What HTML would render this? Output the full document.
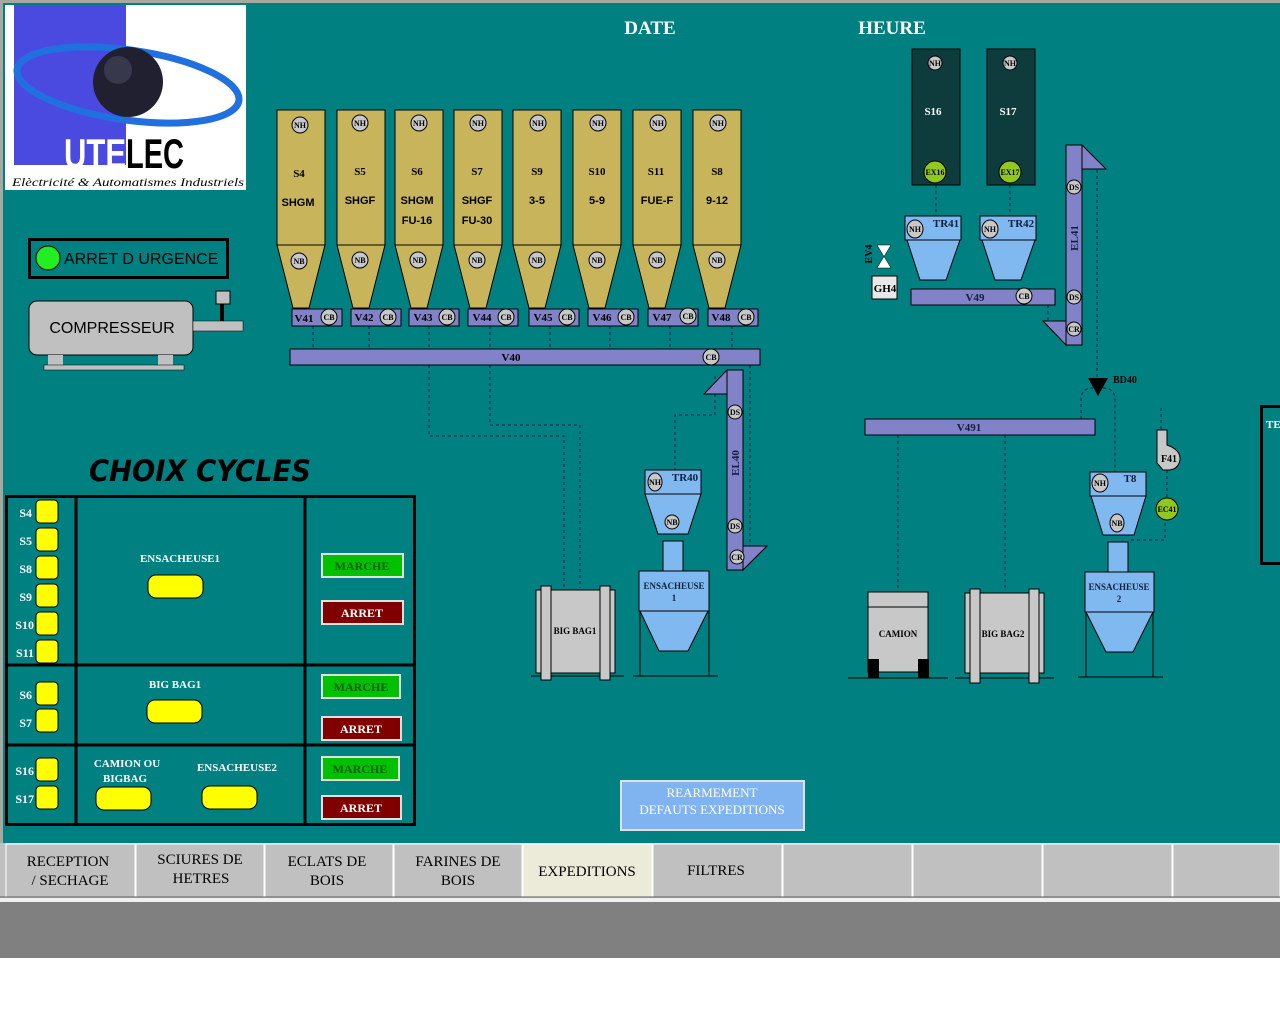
<!DOCTYPE html>
<html><head><meta charset="utf-8"><style>
html,body{margin:0;padding:0;background:#fff;}
svg{display:block;font-family:"Liberation Serif",serif;font-weight:bold;}
</style></head><body>
<svg width="1280" height="1024" viewBox="0 0 1280 1024" xmlns="http://www.w3.org/2000/svg">
<rect x="0" y="0" width="1280" height="958" fill="#a8a8a0"/>
<rect x="3" y="3" width="1277" height="840" fill="#008080"/>
<!-- logo -->
<rect x="5" y="5" width="241" height="185" fill="#fff"/>
<rect x="14" y="5" width="112" height="160" fill="#4a4ae0"/>
<ellipse cx="128" cy="85" rx="112" ry="35" fill="none" stroke="#2070e0" stroke-width="7" transform="rotate(8 128 85)"/>
<circle cx="128" cy="82" r="35" fill="#202030"/>
<circle cx="118" cy="70" r="14" fill="#505068" opacity="0.5"/>
<text x="64" y="168" font-family="Liberation Sans, sans-serif" font-size="42" fill="#fff" textLength="62" lengthAdjust="spacingAndGlyphs">UTE</text>
<text x="126" y="168" font-family="Liberation Sans, sans-serif" font-size="42" fill="#000" textLength="58" lengthAdjust="spacingAndGlyphs">LEC</text>
<text x="12" y="186" font-size="12" font-style="italic" font-weight="normal" fill="#000" textLength="232" lengthAdjust="spacingAndGlyphs">Elèctricité &amp; Automatismes Industriels</text>
<!-- DATE HEURE -->
<text x="650" y="34" font-size="19" fill="#fff" text-anchor="middle">DATE</text>
<text x="892" y="34" font-size="19" fill="#fff" text-anchor="middle">HEURE</text>
<!-- arret urgence -->
<rect x="29.5" y="239.5" width="198" height="38" fill="none" stroke="#000" stroke-width="3"/>
<circle cx="48" cy="258" r="12" fill="#22ee22" stroke="#000"/>
<text font-family="Liberation Sans, sans-serif" x="64" y="264" font-size="16" font-weight="normal" fill="#000">ARRET D URGENCE</text>
<!-- compresseur -->
<rect x="29" y="301" width="164" height="54" rx="8" fill="#c0c0c0" stroke="#000"/>
<text font-family="Liberation Sans, sans-serif" x="112" y="333" font-size="16" font-weight="normal" fill="#000" text-anchor="middle">COMPRESSEUR</text>
<rect x="193" y="321" width="50" height="10" fill="#c0c0c0" stroke="#000" stroke-width="0.5"/>
<rect x="220" y="303" width="4" height="18" fill="#000"/>
<rect x="216" y="291" width="14" height="13" fill="#c0c0c0" stroke="#000"/>
<rect x="48" y="355" width="15" height="10" fill="#c0c0c0"/>
<rect x="158" y="355" width="15" height="10" fill="#c0c0c0"/>
<rect x="44" y="365" width="140" height="5" fill="#c0c0c0" stroke="#000" stroke-width="0.5"/>
<!-- silos -->
<g stroke="#000" stroke-width="1">
<g fill="#c8b45a">
<rect x="277" y="110" width="48" height="135"/><polygon points="277,245 325,245 309,308 293,308"/>
<rect x="337" y="110" width="48" height="135"/><polygon points="337,245 385,245 369,308 353,308"/>
<rect x="395" y="110" width="48" height="135"/><polygon points="395,245 443,245 427,308 411,308"/>
<rect x="454" y="110" width="48" height="135"/><polygon points="454,245 502,245 486,308 470,308"/>
<rect x="513" y="110" width="48" height="135"/><polygon points="513,245 561,245 545,308 529,308"/>
<rect x="573" y="110" width="48" height="135"/><polygon points="573,245 621,245 605,308 589,308"/>
<rect x="633" y="110" width="48" height="135"/><polygon points="633,245 681,245 665,308 649,308"/>
<rect x="693" y="110" width="48" height="135"/><polygon points="693,245 741,245 725,308 709,308"/>
</g>
<g fill="#c8c8c8">
<circle cx="300" cy="125" r="8"/><circle cx="360" cy="123" r="8"/><circle cx="419" cy="123" r="8"/><circle cx="478" cy="123" r="8"/><circle cx="538" cy="123" r="8"/><circle cx="598" cy="123" r="8"/><circle cx="658" cy="123" r="8"/><circle cx="718" cy="123" r="8"/>
<circle cx="299" cy="261" r="8"/><circle cx="360" cy="260" r="8"/><circle cx="418" cy="260" r="8"/><circle cx="477" cy="260" r="8"/><circle cx="537" cy="260" r="8"/><circle cx="597" cy="260" r="8"/><circle cx="657" cy="260" r="8"/><circle cx="717" cy="260" r="8"/>
</g>
</g>
<g font-size="8" fill="#000" text-anchor="middle">
<text x="300" y="128">NH</text><text x="360" y="126">NH</text><text x="419" y="126">NH</text><text x="478" y="126">NH</text><text x="538" y="126">NH</text><text x="598" y="126">NH</text><text x="658" y="126">NH</text><text x="718" y="126">NH</text>
<text x="299" y="264">NB</text><text x="360" y="263">NB</text><text x="418" y="263">NB</text><text x="477" y="263">NB</text><text x="537" y="263">NB</text><text x="597" y="263">NB</text><text x="657" y="263">NB</text><text x="717" y="263">NB</text>
</g>
<g font-size="11" fill="#000" text-anchor="middle">
<text x="299" y="177">S4</text><text x="360" y="175">S5</text><text x="417" y="175">S6</text><text x="477" y="175">S7</text><text x="537" y="175">S9</text><text x="597" y="175">S10</text><text x="656" y="175">S11</text><text x="717" y="175">S8</text>
</g>
<g font-family="Liberation Sans, sans-serif" font-size="11" fill="#000" text-anchor="middle">
<text x="298" y="206">SHGM</text><text x="360" y="204">SHGF</text><text x="417" y="204">SHGM</text><text x="477" y="204">SHGF</text><text x="537" y="204">3-5</text><text x="597" y="204">5-9</text><text x="657" y="204">FUE-F</text><text x="717" y="204">9-12</text>
<text x="417" y="224">FU-16</text><text x="477" y="224">FU-30</text>
</g>
<!-- dashed lines -->
<g stroke="#102040" stroke-dasharray="3,3" fill="none" stroke-width="1">
<line x1="313" y1="326" x2="313" y2="349"/><line x1="369" y1="326" x2="369" y2="349"/><line x1="429" y1="326" x2="429" y2="349"/><line x1="490" y1="326" x2="490" y2="349"/><line x1="550" y1="326" x2="550" y2="349"/><line x1="610" y1="326" x2="610" y2="349"/><line x1="670" y1="326" x2="670" y2="349"/><line x1="732" y1="326" x2="732" y2="349"/>
<polyline points="429,365 429,436 564,436 564,588"/>
<polyline points="490,365 490,425 580,425 580,588"/>
<polyline points="750,365 750,546"/>
<polyline points="715,376 715,415 675,415 675,470"/>
<line x1="936" y1="185" x2="936" y2="216"/>
<line x1="1010" y1="185" x2="1010" y2="216"/>
<line x1="1048" y1="305" x2="1048" y2="322"/>
<line x1="1097" y1="170" x2="1097" y2="380"/>
<path d="M1081,419 V400 Q1081,388 1093,388 M1103,388 Q1115,388 1115,400 V472"/>
<line x1="898" y1="435" x2="898" y2="592"/><line x1="1005" y1="435" x2="1005" y2="590"/>
<line x1="1161" y1="408" x2="1161" y2="430"/><line x1="1167" y1="470" x2="1167" y2="499"/>
<polyline points="1165,517 1165,540 1128,540"/>
</g>
<!-- V boxes -->
<g fill="#8282c8" stroke="#000">
<rect x="292" y="309" width="50" height="17"/><rect x="351" y="309" width="50" height="17"/><rect x="409" y="309" width="50" height="17"/><rect x="468" y="309" width="50" height="17"/><rect x="529" y="309" width="50" height="17"/><rect x="588" y="309" width="50" height="17"/><rect x="648" y="309" width="50" height="17"/><rect x="708" y="309" width="50" height="17"/>
<rect x="290" y="349" width="470" height="16"/>
</g>
<g fill="#c8c8c8" stroke="#000">
<circle cx="329" cy="317" r="8"/><circle cx="388" cy="317" r="8"/><circle cx="447" cy="317" r="8"/><circle cx="506" cy="317" r="8"/><circle cx="567" cy="317" r="8"/><circle cx="626" cy="317" r="8"/><circle cx="688" cy="316" r="8"/><circle cx="746" cy="317" r="8"/><circle cx="711" cy="357" r="8"/>
</g>
<g font-size="11" fill="#000" text-anchor="middle">
<text x="304" y="322">V41</text><text x="364" y="321">V42</text><text x="423" y="321">V43</text><text x="482" y="321">V44</text><text x="543" y="321">V45</text><text x="602" y="321">V46</text><text x="662" y="321">V47</text><text x="721" y="321">V48</text><text x="511" y="361">V40</text>
</g>
<g font-size="8" fill="#000" text-anchor="middle">
<text x="329" y="320">CB</text><text x="388" y="320">CB</text><text x="447" y="320">CB</text><text x="506" y="320">CB</text><text x="567" y="320">CB</text><text x="626" y="320">CB</text><text x="688" y="319">CB</text><text x="746" y="320">CB</text><text x="711" y="360">CB</text>
</g>
<!-- EL40 -->
<g fill="#8282c8" stroke="#000">
<rect x="727" y="370" width="16" height="200"/>
<polygon points="727,370 727,394 704,394"/>
<polygon points="743,570 767,546 743,546"/>
</g>
<g fill="#c8c8c8" stroke="#000"><circle cx="735" cy="412" r="7"/><circle cx="735" cy="526" r="7"/><circle cx="737" cy="557" r="7"/></g>
<g font-size="8" text-anchor="middle"><text x="735" y="415">DS</text><text x="735" y="529">DS</text><text x="737" y="560">CR</text></g>
<text x="739" y="463" font-size="11" text-anchor="middle" transform="rotate(-90 739 463)" fill="#102040">EL40</text>
<!-- TR40 / Ensacheuse1 -->
<g fill="#80b8f0" stroke="#000">
<rect x="645" y="470" width="56" height="24"/>
<polygon points="645,494 701,494 688,534 658,534"/>
<rect x="663" y="541" width="20" height="30"/>
<rect x="639" y="571" width="70" height="40"/>
<polygon points="640,611 708,611 688,651 659,651"/>
</g>
<g stroke="#000" fill="none"><line x1="640" y1="611" x2="640" y2="676"/><line x1="709" y1="611" x2="709" y2="676"/><line x1="633" y1="676" x2="718" y2="676"/></g>
<g fill="#c8c8c8" stroke="#000"><ellipse cx="655" cy="482" rx="7" ry="9"/><circle cx="672" cy="522" r="7"/></g>
<g font-size="8" text-anchor="middle"><text x="655" y="485">NH</text><text x="672" y="525">NB</text></g>
<text x="685" y="481" font-size="11" text-anchor="middle" fill="#102040">TR40</text>
<text x="674" y="589" font-size="9" text-anchor="middle" fill="#102040">ENSACHEUSE</text>
<text x="674" y="601" font-size="9" text-anchor="middle" fill="#102040">1</text>
<!-- big bag1 -->
<line x1="531" y1="676" x2="624" y2="676" stroke="#000"/>
<rect x="536" y="590" width="79" height="83" fill="#c8c8c8" stroke="#000"/>
<rect x="541" y="586" width="10" height="94" fill="#c8c8c8" stroke="#000"/>
<rect x="600" y="586" width="10" height="94" fill="#c8c8c8" stroke="#000"/>
<text x="575" y="634" font-size="9" text-anchor="middle">BIG BAG1</text>
<!-- S16 S17 -->
<rect x="912" y="49" width="48" height="136" fill="#0e3c3c" stroke="#000"/>
<rect x="987" y="49" width="48" height="136" fill="#0e3c3c" stroke="#000"/>
<g fill="#c8c8c8" stroke="#000"><circle cx="935" cy="63" r="7"/><circle cx="1010" cy="63" r="7"/></g>
<g fill="#90c820" stroke="#000"><circle cx="935" cy="172" r="11"/><circle cx="1010" cy="172" r="11"/></g>
<g font-size="8" text-anchor="middle"><text x="935" y="66">NH</text><text x="1010" y="66">NH</text><text x="935" y="175">EX16</text><text x="1010" y="175">EX17</text></g>
<text x="933" y="115" font-size="11" fill="#fff" text-anchor="middle">S16</text>
<text x="1008" y="115" font-size="11" fill="#fff" text-anchor="middle">S17</text>
<!-- TR41 TR42 -->
<g fill="#80b8f0" stroke="#000">
<rect x="905" y="216" width="56" height="24"/><polygon points="907,240 960,240 946,280 920,280"/>
<rect x="980" y="216" width="56" height="24"/><polygon points="982,240 1035,240 1021,280 995,280"/>
</g>
<g fill="#c8c8c8" stroke="#000"><ellipse cx="915" cy="229" rx="8" ry="9"/><ellipse cx="990" cy="229" rx="8" ry="9"/></g>
<g font-size="8" text-anchor="middle"><text x="915" y="232">NH</text><text x="990" y="232">NH</text></g>
<text x="946" y="227" font-size="11" text-anchor="middle" fill="#102040">TR41</text>
<text x="1021" y="227" font-size="11" text-anchor="middle" fill="#102040">TR42</text>
<!-- EV4 GH4 -->
<polygon points="877,245 891,245 877,268 891,268" fill="#fff" stroke="#000" stroke-width="0.5"/>
<text x="876" y="258" font-size="10" text-anchor="middle" transform="rotate(-90 872 258)">EV4</text>
<rect x="872" y="276" width="25" height="23" fill="#e8e8e8" stroke="#000"/>
<text x="885" y="292" font-size="11" text-anchor="middle">GH4</text>
<!-- V49 -->
<rect x="911" y="289" width="144" height="16" fill="#8282c8" stroke="#000"/>
<circle cx="1024" cy="296" r="8" fill="#c8c8c8" stroke="#000"/>
<text x="1024" y="299" font-size="8" text-anchor="middle">CB</text>
<text x="975" y="301" font-size="11" text-anchor="middle" fill="#102040">V49</text>
<!-- EL41 -->
<g fill="#8282c8" stroke="#000">
<rect x="1066" y="145" width="16" height="200"/>
<polygon points="1082,145 1082,169 1106,169"/>
<polygon points="1066,345 1066,321 1043,321"/>
</g>
<g fill="#c8c8c8" stroke="#000"><circle cx="1074" cy="187" r="7"/><circle cx="1074" cy="297" r="7"/><circle cx="1074" cy="329" r="7"/></g>
<g font-size="8" text-anchor="middle"><text x="1074" y="190">DS</text><text x="1074" y="300">DS</text><text x="1074" y="332">CR</text></g>
<text x="1078" y="238" font-size="11" text-anchor="middle" transform="rotate(-90 1078 238)" fill="#102040">EL41</text>
<!-- BD40 -->
<polygon points="1088,378 1108,378 1098,396" fill="#000"/>
<text x="1113" y="383" font-size="10" fill="#000">BD40</text>
<!-- V491 -->
<rect x="865" y="419" width="230" height="16" fill="#8282c8" stroke="#000"/>
<text x="969" y="431" font-size="11" text-anchor="middle" fill="#102040">V491</text>
<!-- T8 / Ensacheuse2 -->
<g fill="#80b8f0" stroke="#000">
<rect x="1090" y="472" width="56" height="24"/>
<polygon points="1091,496 1146,496 1134,535 1103,535"/>
<rect x="1108" y="542" width="20" height="30"/>
<rect x="1085" y="572" width="69" height="40"/>
<polygon points="1086,612 1153,612 1133,652 1106,652"/>
</g>
<g stroke="#000" fill="none"><line x1="1086" y1="612" x2="1086" y2="677"/><line x1="1153" y1="612" x2="1153" y2="677"/><line x1="1078" y1="677" x2="1163" y2="677"/></g>
<g fill="#c8c8c8" stroke="#000"><ellipse cx="1100" cy="483" rx="8" ry="9"/><ellipse cx="1117" cy="523" rx="7" ry="9"/></g>
<g font-size="8" text-anchor="middle"><text x="1100" y="486">NH</text><text x="1117" y="526">NB</text></g>
<text x="1130" y="482" font-size="11" text-anchor="middle" fill="#102040">T8</text>
<text x="1119" y="590" font-size="9" text-anchor="middle" fill="#102040">ENSACHEUSE</text>
<text x="1119" y="602" font-size="9" text-anchor="middle" fill="#102040">2</text>
<!-- F41 EC41 -->
<path d="M1157,430 H1167 V445 Q1181,450 1180,460 Q1178,470 1168,470 H1163 L1157,463 Z" fill="#c8c8c8" stroke="#000"/>
<text x="1169" y="462" font-size="10" text-anchor="middle">F41</text>
<circle cx="1167" cy="509" r="11" fill="#90c820" stroke="#000"/>
<text x="1167" y="512" font-size="8" text-anchor="middle">EC41</text>
<!-- camion -->
<line x1="848" y1="678" x2="948" y2="678" stroke="#000"/>
<rect x="868" y="592" width="60" height="80" fill="#c8c8c8" stroke="#000"/>
<line x1="868" y1="607" x2="928" y2="607" stroke="#000"/>
<rect x="868" y="659" width="11" height="19" fill="#000"/>
<rect x="918" y="659" width="11" height="19" fill="#000"/>
<text x="898" y="637" font-size="9" text-anchor="middle">CAMION</text>
<!-- big bag2 -->
<line x1="955" y1="678" x2="1054" y2="678" stroke="#000"/>
<rect x="965" y="593" width="79" height="80" fill="#c8c8c8" stroke="#000"/>
<rect x="970" y="589" width="10" height="94" fill="#c8c8c8" stroke="#000"/>
<rect x="1029" y="589" width="10" height="94" fill="#c8c8c8" stroke="#000"/>
<text x="1003" y="637" font-size="9" text-anchor="middle">BIG BAG2</text>
<!-- right partial box -->
<rect x="1261.5" y="406.5" width="30" height="157" fill="none" stroke="#000" stroke-width="3"/>
<text x="1266" y="428" font-size="11" fill="#fff">TE</text>
<!-- CHOIX CYCLES -->
<text x="89" y="481" font-family="DejaVu Sans, sans-serif" font-style="italic" font-size="29" fill="#000" textLength="222" lengthAdjust="spacingAndGlyphs">CHOIX CYCLES</text>
<!-- table -->
<g fill="none" stroke="#000" stroke-width="3">
<rect x="6.5" y="496.5" width="408" height="328"/>
<line x1="76" y1="496" x2="76" y2="825"/><line x1="305" y1="496" x2="305" y2="825"/>
<line x1="6" y1="665" x2="415" y2="665"/><line x1="6" y1="745" x2="415" y2="745"/>
</g>
<g fill="#ffff00" stroke="#000">
<rect x="36" y="500" width="22" height="23" rx="4"/><rect x="36" y="528" width="22" height="23" rx="4"/><rect x="36" y="556" width="22" height="23" rx="4"/><rect x="36" y="584" width="22" height="23" rx="4"/><rect x="36" y="612" width="22" height="23" rx="4"/><rect x="36" y="640" width="22" height="23" rx="4"/>
<rect x="36" y="682" width="22" height="23" rx="4"/><rect x="36" y="709" width="22" height="23" rx="4"/>
<rect x="36" y="758" width="22" height="23" rx="4"/><rect x="36" y="786" width="22" height="23" rx="4"/>
<rect x="148" y="575" width="55" height="23" rx="8"/><rect x="147" y="700" width="55" height="23" rx="8"/>
<rect x="96" y="787" width="55" height="23" rx="8"/><rect x="202" y="786" width="55" height="23" rx="8"/>
</g>
<g font-size="12" fill="#fff" text-anchor="end">
<text x="32" y="517">S4</text><text x="32" y="545">S5</text><text x="32" y="573">S8</text><text x="32" y="601">S9</text><text x="34" y="629">S10</text><text x="34" y="657">S11</text>
<text x="32" y="699">S6</text><text x="32" y="727">S7</text><text x="34" y="775">S16</text><text x="34" y="803">S17</text>
</g>
<g font-size="11" fill="#fff" text-anchor="middle">
<text x="180" y="562">ENSACHEUSE1</text><text x="175" y="688">BIG BAG1</text>
<text x="127" y="767">CAMION OU</text><text x="125" y="782">BIGBAG</text><text x="237" y="771">ENSACHEUSE2</text>
</g>
<g stroke-width="2">
<rect x="322" y="554" width="81" height="23" fill="#00c000" stroke="#e0e0e0"/>
<rect x="322" y="601" width="81" height="23" fill="#800000" stroke="#e0e0e0"/>
<rect x="322" y="675" width="78" height="23" fill="#00c000" stroke="#e0e0e0"/>
<rect x="322" y="717" width="79" height="23" fill="#800000" stroke="#e0e0e0"/>
<rect x="322" y="757" width="77" height="23" fill="#00c000" stroke="#e0e0e0"/>
<rect x="322" y="796" width="79" height="23" fill="#800000" stroke="#e0e0e0"/>
</g>
<g font-size="12" text-anchor="middle">
<text x="362" y="570" fill="#006000">MARCHE</text><text x="362" y="617" fill="#fff">ARRET</text>
<text x="361" y="691" fill="#006000">MARCHE</text><text x="361" y="733" fill="#fff">ARRET</text>
<text x="360" y="773" fill="#006000">MARCHE</text><text x="361" y="812" fill="#fff">ARRET</text>
</g>
<!-- rearmement -->
<rect x="621" y="781" width="183" height="49" fill="#80b4f0" stroke="#e0e0e0" stroke-width="2"/>
<text x="712" y="797" font-size="13" font-weight="normal" fill="#fff" text-anchor="middle">REARMEMENT</text>
<text x="712" y="814" font-size="13" font-weight="normal" fill="#fff" text-anchor="middle">DEFAUTS EXPEDITIONS</text>
<!-- nav -->
<rect x="0" y="843" width="1280" height="57" fill="#c0c0c0"/>
<rect x="0" y="898" width="1280" height="4" fill="#f0f0f0"/>
<rect x="0" y="902" width="1280" height="56" fill="#808080"/>
<g fill="#c0c0c0" stroke="#fff" stroke-width="1">
<rect x="6" y="844" width="129" height="53"/><rect x="136" y="844" width="128" height="53"/><rect x="265" y="844" width="128" height="53"/><rect x="394" y="844" width="128" height="53"/>
<rect x="523" y="844" width="129" height="53" fill="#ecead8"/><rect x="653" y="844" width="129" height="53"/><rect x="783" y="844" width="129" height="53"/><rect x="913" y="844" width="129" height="53"/><rect x="1043" y="844" width="129" height="53"/><rect x="1173" y="844" width="107" height="53"/>
</g>
<g stroke="#606060"><line x1="0" y1="897" x2="1280" y2="897"/></g>
<g font-size="15" font-weight="normal" fill="#000" text-anchor="middle">
<text x="68" y="866">RECEPTION</text><text x="70" y="885">/ SECHAGE</text>
<text x="200" y="864">SCIURES DE</text><text x="201" y="883">HETRES</text>
<text x="327" y="866">ECLATS DE</text><text x="327" y="885">BOIS</text>
<text x="458" y="866">FARINES DE</text><text x="458" y="885">BOIS</text>
<text x="587" y="876">EXPEDITIONS</text><text x="716" y="875">FILTRES</text>
</g>
</svg>
</body></html>
